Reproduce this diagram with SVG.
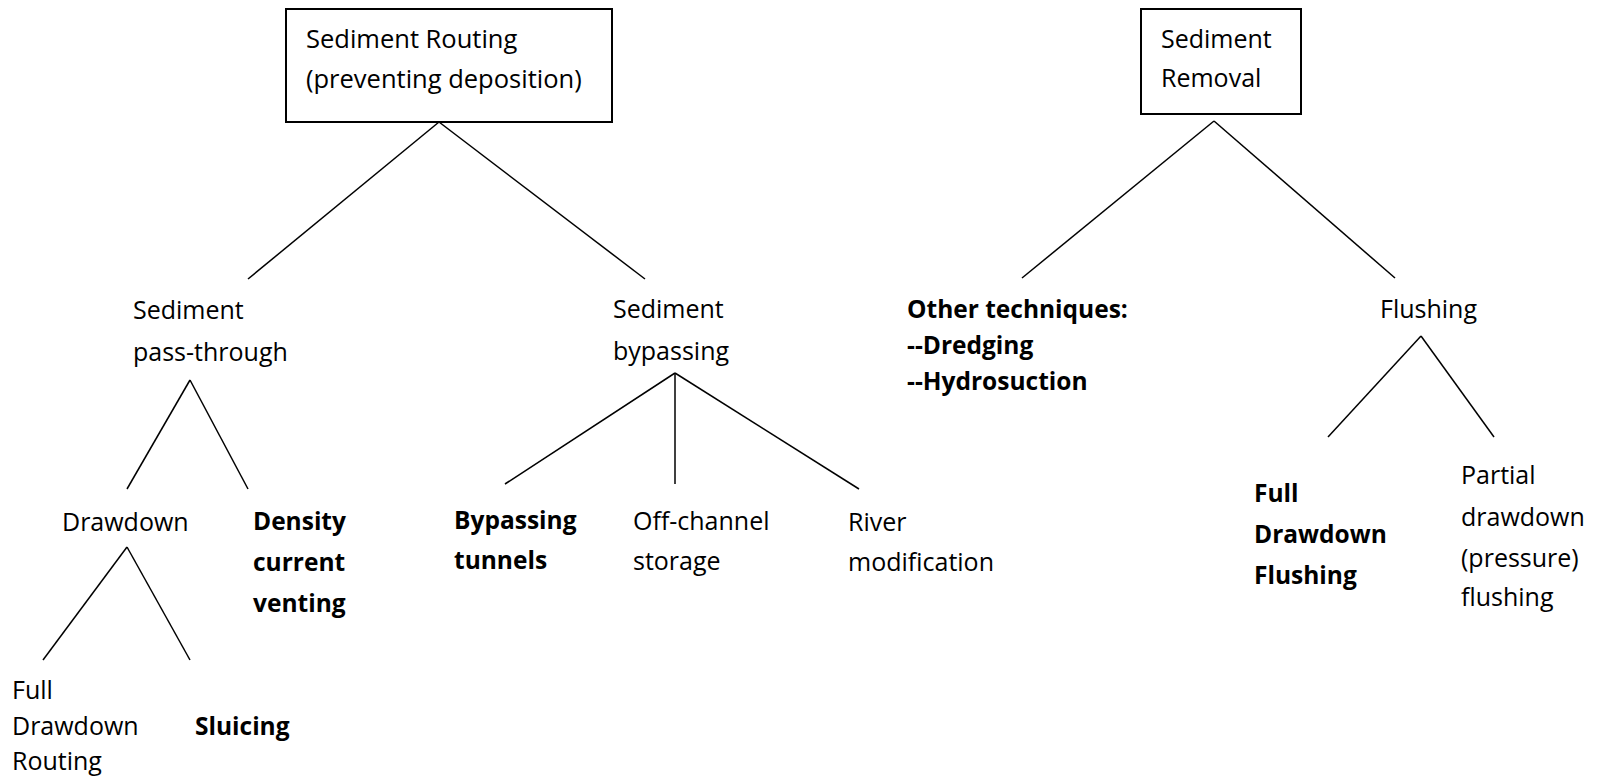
<svg xmlns="http://www.w3.org/2000/svg" width="1599" height="778" viewBox="0 0 1599 778">
<style>
  text { font-family: "Open Sans", "Liberation Sans", sans-serif; font-size: 25px; fill: #000; }
  .b { font-weight: 700; font-size: 24.5px; }
  .box { fill: #fff; stroke: #000; stroke-width: 2; }
  .ln { stroke: #000; stroke-width: 1.5; fill: none; }
</style>
<rect width="1599" height="778" fill="#fff"/>
<g id="connectors">
  <line class="ln" x1="439" y1="122" x2="248" y2="279"/>
  <line class="ln" x1="439" y1="122" x2="645" y2="279"/>
  <line class="ln" x1="1214" y1="121" x2="1022" y2="278"/>
  <line class="ln" x1="1214" y1="121" x2="1395" y2="278"/>
  <line class="ln" x1="190" y1="380" x2="127" y2="489"/>
  <line class="ln" x1="190" y1="380" x2="248" y2="489"/>
  <line class="ln" x1="127" y1="547" x2="43" y2="660"/>
  <line class="ln" x1="127" y1="547" x2="190" y2="660"/>
  <line class="ln" x1="675" y1="373" x2="505" y2="484"/>
  <line class="ln" x1="675" y1="373" x2="675" y2="484"/>
  <line class="ln" x1="675" y1="373" x2="859" y2="489"/>
  <line class="ln" x1="1421" y1="336" x2="1328" y2="437"/>
  <line class="ln" x1="1421" y1="336" x2="1494" y2="437"/>
</g>
<g id="routing">
  <rect class="box" x="286" y="9" width="326" height="113"/>
  <text x="306" y="48" style="font-size:25.5px">Sediment Routing</text>
  <text x="306" y="88" style="font-size:25.5px">(preventing deposition)</text>
</g>
<g id="removal">
  <rect class="box" x="1141" y="9" width="160" height="105"/>
  <text x="1161" y="48">Sediment</text>
  <text x="1161" y="87">Removal</text>
</g>
<g id="pass-through">
  <text x="133" y="319">Sediment</text>
  <text x="133" y="361">pass-through</text>
</g>
<g id="bypassing">
  <text x="613" y="318">Sediment</text>
  <text x="613" y="360">bypassing</text>
</g>
<g id="other">
  <text class="b" x="907" y="318">Other techniques:</text>
  <text class="b" x="907" y="354">--Dredging</text>
  <text class="b" x="907" y="390">--Hydrosuction</text>
</g>
<g id="flushing">
  <text x="1380" y="318">Flushing</text>
</g>
<g id="drawdown">
  <text x="62" y="531">Drawdown</text>
</g>
<g id="density">
  <text class="b" x="253" y="530">Density</text>
  <text class="b" x="253" y="571">current</text>
  <text class="b" x="253" y="612">venting</text>
</g>
<g id="full-routing">
  <text x="12" y="699">Full</text>
  <text x="12" y="735">Drawdown</text>
  <text x="12" y="770">Routing</text>
</g>
<g id="sluicing">
  <text class="b" x="195" y="735">Sluicing</text>
</g>
<g id="tunnels">
  <text class="b" x="454" y="529">Bypassing</text>
  <text class="b" x="454" y="569">tunnels</text>
</g>
<g id="storage">
  <text x="633" y="530">Off-channel</text>
  <text x="633" y="570">storage</text>
</g>
<g id="river">
  <text x="848" y="531">River</text>
  <text x="848" y="571">modification</text>
</g>
<g id="full-flushing">
  <text class="b" x="1254" y="502">Full</text>
  <text class="b" x="1254" y="543">Drawdown</text>
  <text class="b" x="1254" y="584">Flushing</text>
</g>
<g id="partial">
  <text x="1461" y="484">Partial</text>
  <text x="1461" y="526">drawdown</text>
  <text x="1461" y="567">(pressure)</text>
  <text x="1461" y="606">flushing</text>
</g>
</svg>
